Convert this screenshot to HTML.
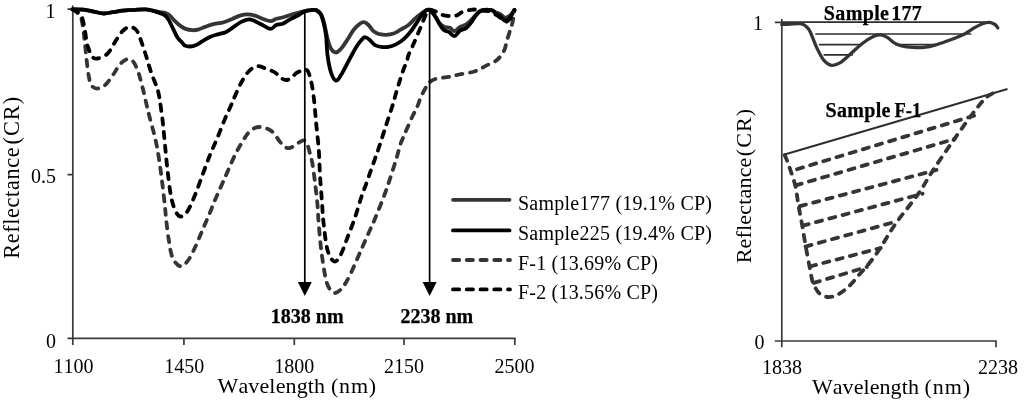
<!DOCTYPE html>
<html><head><meta charset="utf-8"><title>Reflectance</title>
<style>
html,body{margin:0;padding:0;background:#fff;}
svg{display:block;}
text{font-kerning:none;font-family:"Liberation Serif",serif;fill:#000;}
.b{font-weight:bold;stroke:#000;stroke-width:0.25px;}
</style></head><body>
<svg width="1024" height="402" viewBox="0 0 1024 402">
<rect width="1024" height="402" fill="#fff"/>

<!-- left chart axes -->
<g stroke="#3a3a3a" stroke-width="1.7" fill="none">
<path d="M72.8,5.5 V338.4 M67.5,338.4 H515.5 M67.5,9.2 H73 M67.5,174.6 H73"/>
<path d="M72.8,338 V345 M183.9,338 V345 M294.3,338 V345 M404,338 V345 M514.8,338 V345"/>
</g>
<path d="M72.5,9.4 C74.6,9.5 81.2,9.3 85.0,9.8 C88.8,10.2 91.9,11.3 95.0,11.9 C98.1,12.5 100.8,13.4 103.8,13.5 C106.7,13.6 109.4,12.7 112.5,12.2 C115.6,11.8 118.8,11.0 122.5,10.6 C126.2,10.2 131.2,9.9 135.0,9.8 C138.8,9.6 142.1,9.3 145.0,9.4 C147.9,9.5 150.0,10.1 152.5,10.6 C155.0,11.1 157.9,11.8 160.0,12.2 C162.1,12.6 163.3,12.3 165.0,12.9 C166.7,13.5 168.3,14.2 170.0,15.6 C171.7,17.0 173.3,19.6 175.0,21.2 C176.7,22.9 178.3,24.4 180.0,25.6 C181.7,26.8 182.9,27.8 185.0,28.6 C187.1,29.4 190.2,30.1 192.5,30.2 C194.8,30.4 196.7,30.0 198.8,29.4 C200.8,28.8 202.7,27.7 205.0,26.9 C207.3,26.1 209.4,25.2 212.5,24.4 C215.6,23.6 220.4,23.2 223.8,22.2 C227.1,21.3 229.8,19.9 232.5,18.8 C235.2,17.6 237.5,16.3 240.0,15.6 C242.5,14.9 245.0,14.4 247.5,14.4 C250.0,14.4 252.5,14.9 255.0,15.6 C257.5,16.3 259.9,17.8 262.5,18.8 C265.1,19.7 268.3,21.2 270.6,21.2 C272.9,21.2 274.3,19.4 276.2,18.8 C278.2,18.1 280.2,18.1 282.5,17.5 C284.8,16.9 287.3,15.8 290.0,15.0 C292.7,14.2 296.3,13.2 298.8,12.5 C301.2,11.8 302.5,11.4 304.5,11.0 C306.5,10.6 309.1,10.2 311.0,10.1 C312.9,9.9 314.4,9.5 316.0,10.1 C317.6,10.7 319.5,11.7 320.8,13.8 C322.1,15.8 322.9,18.5 324.0,22.5 C325.1,26.5 326.1,33.1 327.2,37.5 C328.4,41.9 329.5,46.2 331.0,48.8 C332.5,51.2 334.3,52.5 336.0,52.5 C337.7,52.5 339.1,50.8 341.0,48.8 C342.9,46.7 345.2,43.1 347.2,40.0 C349.3,36.9 351.4,32.7 353.5,30.0 C355.6,27.3 358.0,25.0 359.8,23.8 C361.5,22.5 362.6,22.0 364.1,22.2 C365.6,22.5 366.9,23.5 368.5,25.0 C370.1,26.5 371.8,29.8 373.5,31.2 C375.2,32.7 376.4,33.2 378.5,33.8 C380.6,34.3 383.5,34.8 386.0,34.8 C388.5,34.7 391.0,34.4 393.5,33.5 C396.0,32.6 398.5,30.8 401.0,29.4 C403.5,28.0 406.2,26.8 408.5,25.0 C410.8,23.2 412.7,20.6 414.8,18.8 C416.8,16.9 419.3,15.1 421.0,13.8 C422.7,12.4 423.7,11.5 425.0,10.8 C426.3,10.1 427.4,9.4 428.8,9.8 C430.1,10.1 431.1,10.7 433.0,13.0 C434.9,15.3 438.0,21.4 440.0,23.8 C442.0,26.1 443.3,26.2 445.0,26.9 C446.7,27.6 448.4,27.0 450.0,27.8 C451.6,28.5 452.7,31.4 454.4,31.2 C456.1,31.1 458.0,28.0 460.0,26.9 C462.0,25.8 464.4,25.5 466.2,24.4 C468.1,23.2 469.6,21.6 471.2,20.0 C472.9,18.4 474.6,16.1 476.2,14.5 C477.9,12.9 478.8,11.3 481.2,10.6 C483.8,9.9 488.8,9.9 491.2,10.2 C493.8,10.6 494.8,11.9 496.2,12.5 C497.7,13.1 498.5,13.2 500.0,14.0 C501.5,14.8 503.3,17.2 505.0,17.5 C506.7,17.8 508.4,16.8 510.0,15.5 C511.6,14.2 513.7,10.9 514.4,10.0" fill="none" stroke="#353535" stroke-width="3.8" stroke-linejoin="round" stroke-linecap="round"/>
<path d="M72.5,9.4 C74.6,9.5 81.2,9.3 85.0,9.8 C88.8,10.2 91.9,11.3 95.0,11.9 C98.1,12.5 100.8,13.4 103.8,13.5 C106.7,13.6 109.4,12.7 112.5,12.2 C115.6,11.8 118.8,11.0 122.5,10.6 C126.2,10.2 131.2,9.9 135.0,9.8 C138.8,9.6 142.1,9.3 145.0,9.4 C147.9,9.5 150.0,10.0 152.5,10.6 C155.0,11.2 157.9,12.3 160.0,13.1 C162.1,13.9 163.5,14.4 165.0,15.6 C166.5,16.8 167.5,18.0 168.8,20.0 C170.0,22.0 171.0,24.6 172.5,27.5 C174.0,30.4 175.8,34.9 177.5,37.5 C179.2,40.1 181.2,41.6 182.5,43.0 C183.8,44.4 183.8,45.0 185.0,45.6 C186.2,46.2 188.1,46.6 190.0,46.5 C191.9,46.4 194.2,45.9 196.2,45.0 C198.3,44.1 200.2,42.6 202.5,41.2 C204.8,39.9 207.5,38.0 210.0,36.9 C212.5,35.8 214.8,35.2 217.5,34.4 C220.2,33.6 223.5,33.1 226.2,31.9 C229.0,30.6 231.2,28.6 233.8,26.9 C236.2,25.2 238.8,23.1 241.2,21.9 C243.8,20.6 246.5,19.5 248.8,19.4 C251.0,19.3 252.7,20.3 255.0,21.2 C257.3,22.2 259.9,23.8 262.5,25.0 C265.1,26.2 268.3,28.8 270.6,28.8 C272.9,28.8 274.3,25.8 276.2,25.0 C278.2,24.2 280.2,24.7 282.5,23.8 C284.8,22.8 287.3,20.9 290.0,19.4 C292.7,17.9 296.3,16.3 298.8,15.0 C301.2,13.7 302.5,12.3 304.5,11.5 C306.5,10.7 309.1,10.3 311.0,10.1 C312.9,9.9 314.4,9.5 316.0,10.1 C317.6,10.7 319.1,11.7 320.4,13.8 C321.6,15.8 322.6,19.0 323.5,22.5 C324.4,26.0 325.3,29.6 326.0,35.0 C326.7,40.4 326.7,48.8 327.5,55.0 C328.3,61.2 329.6,68.2 331.0,72.5 C332.4,76.8 334.3,80.2 336.0,80.6 C337.7,81.0 338.9,78.2 341.0,75.0 C343.1,71.8 346.0,65.8 348.5,61.2 C351.0,56.7 353.9,50.9 356.0,47.5 C358.1,44.1 359.5,42.3 361.0,40.6 C362.5,38.9 363.3,37.4 364.8,37.2 C366.2,37.1 368.1,38.7 369.8,40.0 C371.4,41.3 372.9,43.9 374.8,45.0 C376.6,46.1 378.7,46.6 381.0,46.9 C383.3,47.2 386.0,47.3 388.5,46.9 C391.0,46.5 393.5,45.6 396.0,44.4 C398.5,43.1 401.0,41.6 403.5,39.4 C406.0,37.2 408.5,34.5 411.0,31.2 C413.5,28.0 416.4,23.1 418.5,20.0 C420.6,16.9 422.0,14.2 423.8,12.5 C425.5,10.8 426.9,9.1 428.8,9.8 C430.6,10.4 433.1,13.7 435.0,16.2 C436.9,18.8 438.5,22.7 440.0,25.0 C441.5,27.3 442.3,28.9 443.8,30.0 C445.2,31.1 447.0,30.9 448.8,31.9 C450.5,32.9 452.5,36.5 454.4,36.2 C456.3,36.0 458.0,32.0 460.0,30.6 C462.0,29.2 464.4,29.5 466.2,28.1 C468.1,26.8 469.6,24.7 471.2,22.5 C472.9,20.3 474.6,17.0 476.2,15.0 C477.9,13.0 478.8,11.4 481.2,10.6 C483.8,9.8 488.8,9.7 491.2,10.2 C493.8,10.8 494.8,12.8 496.2,13.8 C497.7,14.8 498.5,15.1 500.0,16.2 C501.5,17.4 503.3,20.4 505.0,20.6 C506.7,20.8 508.4,19.3 510.0,17.5 C511.6,15.7 513.7,11.2 514.4,10.0" fill="none" stroke="#000" stroke-width="3.8" stroke-linejoin="round" stroke-linecap="round"/>
<path d="M72.5,9.4 C73.2,9.9 75.6,11.2 77.0,12.5 C78.4,13.8 79.9,14.4 81.0,17.5 C82.1,20.6 82.9,27.2 83.5,31.0 C84.1,34.8 84.1,36.8 84.4,40.0 C84.8,43.2 85.2,46.2 85.6,50.0 C86.0,53.8 86.4,58.1 86.9,62.5 C87.4,66.9 88.0,72.5 88.8,76.2 C89.5,80.0 90.0,83.0 91.2,85.0 C92.5,87.0 94.4,88.2 96.2,88.5 C98.1,88.8 100.6,87.9 102.5,86.9 C104.4,85.9 105.6,84.7 107.5,82.5 C109.4,80.3 111.7,76.8 113.8,73.8 C115.8,70.7 117.9,66.8 120.0,64.4 C122.1,62.0 124.4,60.1 126.2,59.4 C128.1,58.7 129.8,59.2 131.2,60.0 C132.7,60.8 133.8,62.1 135.0,64.4 C136.2,66.7 137.7,70.7 138.8,73.8 C139.8,76.8 140.4,79.4 141.2,82.5 C142.1,85.6 142.8,88.5 143.8,92.5 C144.7,96.5 145.9,101.9 146.9,106.2 C147.9,110.6 148.7,113.5 150.0,118.8 C151.3,124.0 153.5,131.0 155.0,137.5 C156.5,144.0 157.5,149.6 158.8,157.5 C160.0,165.4 161.5,176.8 162.5,185.0 C163.5,193.2 164.4,201.2 165.0,207.0 C165.6,212.8 165.6,214.5 166.2,220.0 C166.9,225.5 167.7,233.8 168.8,240.0 C169.8,246.2 170.6,253.1 172.5,257.5 C174.4,261.9 177.5,265.6 180.0,266.2 C182.5,266.9 185.0,264.4 187.5,261.2 C190.0,258.1 192.5,252.7 195.0,247.5 C197.5,242.3 200.0,235.8 202.5,230.0 C205.0,224.2 207.9,217.5 210.0,212.5 C212.1,207.5 212.5,205.8 215.0,200.0 C217.5,194.2 221.7,185.0 225.0,177.5 C228.3,170.0 231.7,161.7 235.0,155.0 C238.3,148.3 242.7,141.2 245.0,137.5 C247.3,133.8 247.3,134.0 248.8,132.5 C250.2,131.0 251.9,129.3 253.8,128.4 C255.6,127.5 257.7,126.9 260.0,127.0 C262.3,127.1 265.2,127.7 267.5,128.8 C269.8,129.8 271.7,130.9 273.8,133.1 C275.8,135.3 278.1,139.6 280.0,141.9 C281.9,144.2 283.5,145.9 285.0,146.9 C286.5,147.9 287.3,148.2 288.8,148.1 C290.2,148.0 291.9,147.3 293.8,146.2 C295.6,145.2 298.2,142.8 300.0,141.9 C301.8,141.0 303.1,140.1 304.4,140.6 C305.6,141.1 306.6,142.8 307.5,145.0 C308.4,147.2 309.2,150.6 310.0,153.8 C310.8,156.9 311.7,159.2 312.5,164.0 C313.3,168.8 314.2,175.7 315.0,182.5 C315.8,189.3 316.9,197.9 317.5,205.0 C318.1,212.1 318.1,217.5 318.8,225.0 C319.4,232.5 320.2,241.7 321.2,250.0 C322.3,258.3 323.8,268.8 325.0,275.0 C326.2,281.2 327.1,284.5 328.8,287.5 C330.4,290.5 332.7,293.0 335.0,293.0 C337.3,293.0 340.0,290.5 342.5,287.5 C345.0,284.5 347.1,280.8 350.0,275.0 C352.9,269.2 356.7,260.0 360.0,252.5 C363.3,245.0 367.3,236.0 370.0,230.0 C372.7,224.0 373.6,222.1 376.0,216.2 C378.4,210.4 382.1,201.2 384.4,195.0 C386.7,188.8 388.3,183.8 390.0,178.8 C391.7,173.8 393.2,168.6 394.4,165.0 C395.5,161.4 395.9,160.4 396.9,156.9 C397.9,153.4 399.5,147.2 400.6,143.8 C401.7,140.3 402.6,139.0 403.8,136.2 C404.9,133.5 406.0,130.8 407.5,127.5 C409.0,124.2 410.9,119.6 412.5,116.2 C414.1,112.9 415.4,110.8 416.9,107.5 C418.4,104.2 419.7,99.7 421.2,96.2 C422.8,92.8 424.8,89.3 426.2,86.9 C427.7,84.5 428.3,83.3 430.0,81.9 C431.7,80.5 433.1,79.6 436.2,78.8 C439.4,77.9 444.8,77.6 448.8,76.9 C452.7,76.2 455.6,75.3 460.0,74.4 C464.4,73.5 470.6,72.7 475.0,71.2 C479.4,69.8 482.7,67.4 486.2,65.6 C489.8,63.8 493.8,62.4 496.2,60.6 C498.8,58.8 499.8,57.0 501.2,55.0 C502.7,53.0 503.8,51.5 504.8,48.8 C505.8,46.0 506.5,42.1 507.5,38.8 C508.5,35.4 509.8,31.5 510.6,28.8 C511.4,26.0 511.9,25.4 512.5,22.5 C513.1,19.6 514.1,13.1 514.4,11.2" fill="none" stroke="#353535" stroke-width="3.8" stroke-dasharray="6.2 7.55" stroke-linecap="round"/>
<path d="M72.5,9.4 C73.3,9.8 75.9,10.7 77.5,12.0 C79.1,13.3 80.8,14.3 82.0,17.5 C83.2,20.7 84.2,26.6 85.0,31.0 C85.8,35.4 86.4,41.1 86.9,43.8 C87.4,46.4 87.6,45.5 88.1,47.0 C88.6,48.5 89.2,50.8 90.0,52.5 C90.8,54.2 91.8,56.5 93.1,57.5 C94.3,58.5 95.5,58.8 97.5,58.5 C99.5,58.2 102.9,56.9 105.0,55.6 C107.1,54.3 108.1,53.2 110.0,50.6 C111.9,48.0 114.2,43.2 116.2,40.0 C118.3,36.8 120.3,33.4 122.5,31.2 C124.7,29.1 127.1,27.1 129.4,26.9 C131.7,26.7 134.5,28.1 136.2,30.0 C138.0,31.9 138.5,34.2 140.0,38.0 C141.5,41.8 143.5,48.0 145.0,52.5 C146.5,57.0 147.5,61.0 148.8,65.0 C150.0,69.0 151.1,72.5 152.5,76.2 C153.9,80.0 155.8,84.0 156.9,87.5 C158.1,91.0 158.7,93.8 159.4,97.5 C160.1,101.2 160.6,105.4 161.2,110.0 C161.9,114.6 162.5,119.2 163.1,125.0 C163.7,130.8 164.3,137.5 165.0,145.0 C165.7,152.5 166.5,161.2 167.5,170.0 C168.5,178.8 169.8,190.4 171.2,197.5 C172.7,204.6 174.6,209.3 176.2,212.5 C177.9,215.7 179.4,216.7 181.2,216.5 C183.1,216.3 185.2,214.8 187.5,211.2 C189.8,207.7 192.5,201.0 195.0,195.0 C197.5,189.0 200.0,181.7 202.5,175.0 C205.0,168.3 207.5,161.2 210.0,155.0 C212.5,148.8 215.0,143.5 217.5,137.5 C220.0,131.5 222.7,124.2 225.0,118.8 C227.3,113.3 229.8,108.3 231.2,105.0 C232.7,101.7 232.3,102.1 233.8,98.8 C235.2,95.4 237.9,89.1 240.0,85.0 C242.1,80.9 244.2,77.2 246.2,74.4 C248.3,71.6 250.4,69.5 252.5,68.1 C254.6,66.7 256.5,66.1 258.8,66.2 C261.0,66.4 263.5,67.7 266.2,68.8 C269.0,69.8 272.5,70.9 275.0,72.5 C277.5,74.1 279.4,76.8 281.2,78.1 C283.1,79.3 284.6,80.0 286.2,80.0 C287.9,80.0 289.6,79.2 291.2,78.1 C292.9,76.9 294.4,74.3 296.2,73.1 C298.1,71.8 300.7,71.1 302.5,70.6 C304.3,70.1 305.8,69.3 306.9,70.0 C308.0,70.7 308.6,72.5 309.4,75.0 C310.2,77.5 311.2,81.2 311.9,85.0 C312.6,88.8 313.2,93.3 313.8,97.5 C314.3,101.7 314.6,105.6 315.0,110.0 C315.4,114.4 315.6,117.1 316.2,123.8 C316.9,130.4 318.1,141.5 318.8,150.0 C319.4,158.5 319.5,166.2 320.0,175.0 C320.5,183.8 321.4,194.2 322.0,202.5 C322.6,210.8 322.8,217.1 323.8,225.0 C324.7,232.9 325.8,244.0 327.5,250.0 C329.2,256.0 331.7,260.2 333.8,261.2 C335.8,262.3 337.7,260.2 340.0,256.2 C342.3,252.3 345.0,244.0 347.5,237.5 C350.0,231.0 352.7,224.2 355.0,217.5 C357.3,210.8 359.4,203.1 361.2,197.5 C363.1,191.9 364.7,188.1 366.2,183.8 C367.8,179.4 369.1,175.4 370.6,171.2 C372.1,167.1 373.8,162.3 375.0,158.8 C376.2,155.2 376.4,155.0 378.1,150.0 C379.8,145.0 382.7,135.6 385.0,128.5 C387.3,121.4 390.0,113.5 391.9,107.5 C393.8,101.5 394.9,97.1 396.2,92.5 C397.6,87.9 398.8,84.0 400.0,80.0 C401.2,76.0 402.6,71.9 403.8,68.8 C404.9,65.6 406.1,63.5 406.9,61.2 C407.7,59.0 407.4,57.9 408.5,55.0 C409.6,52.1 411.6,48.4 413.5,44.0 C415.4,39.6 417.9,33.8 420.0,28.8 C422.1,23.7 424.8,16.9 426.2,13.8 C427.7,10.6 427.3,10.2 428.8,9.8 C430.2,9.3 432.7,10.4 435.0,11.2 C437.3,12.1 440.2,14.2 442.5,15.0 C444.8,15.8 446.5,15.9 448.8,16.0 C451.0,16.1 454.0,16.3 456.2,15.6 C458.5,14.9 460.2,12.8 462.5,11.9 C464.8,11.0 467.9,10.4 470.0,10.0 C472.1,9.6 473.1,9.4 475.0,9.5 C476.9,9.6 478.8,10.3 481.2,10.6 C483.8,10.9 487.5,10.6 490.0,11.3 C492.5,12.0 494.6,13.9 496.2,15.0 C497.9,16.1 498.5,16.5 500.0,17.6 C501.5,18.7 503.3,21.6 505.0,21.8 C506.7,22.0 508.4,20.6 510.0,18.6 C511.6,16.6 513.7,11.4 514.4,10.0" fill="none" stroke="#000" stroke-width="3.8" stroke-dasharray="6.2 7.55" stroke-linecap="round"/>
<!-- arrows -->
<g stroke="#000" stroke-width="1.7">
<path d="M304.8,12 V284"/><path d="M429.6,12 V284"/>
</g>
<path d="M297.8,282 L311.8,282 L304.8,296 Z" fill="#000"/>
<path d="M422.6,282 L436.6,282 L429.6,296 Z" fill="#000"/>
<text class="b" x="270.8" y="323.2" font-size="20">1838 nm</text>
<text class="b" x="400.4" y="323.2" font-size="20">2238 nm</text>
<!-- tick labels -->
<text x="55.5" y="17.5" font-size="20" text-anchor="end">1</text>
<text x="56" y="183" font-size="20" text-anchor="end">0.5</text>
<text x="56" y="347.7" font-size="20" text-anchor="end">0</text>
<text x="73.5" y="372.5" font-size="20" text-anchor="middle">1100</text>
<text x="184.3" y="372.5" font-size="20" text-anchor="middle">1450</text>
<text x="294.3" y="372.5" font-size="20" text-anchor="middle">1800</text>
<text x="404" y="372.5" font-size="20" text-anchor="middle">2150</text>
<text x="514.5" y="372.5" font-size="20" text-anchor="middle">2500</text>
<text y="393.2" font-size="22"><tspan x="217.5" textLength="107.6" lengthAdjust="spacing">Wavelength</tspan> <tspan x="330.9" textLength="45.3" lengthAdjust="spacing">(nm)</tspan></text>
<text transform="translate(18.8,258.8) rotate(-90)" font-size="22.3"><tspan x="0" textLength="111.4" lengthAdjust="spacing">Reflectance</tspan> <tspan x="114.3" textLength="47.7" lengthAdjust="spacing">(CR)</tspan></text>
<!-- legend -->
<g fill="none" stroke-width="3.8">
<path d="M453,199.8 H509.5" stroke="#353535" stroke-linecap="round"/>
<path d="M453,230.4 H509.5" stroke="#000" stroke-linecap="round"/>
<path d="M453,260 H510" stroke="#353535" stroke-dasharray="6.2 7.55" stroke-linecap="round"/>
<path d="M453,289.4 H510" stroke="#000" stroke-dasharray="6.2 7.55" stroke-linecap="round"/>
</g>
<text x="518" y="209.7" font-size="20" textLength="194" lengthAdjust="spacing">Sample177 (19.1% CP)</text>
<text x="518" y="239.7" font-size="20" textLength="194" lengthAdjust="spacing">Sample225 (19.4% CP)</text>
<text x="518" y="269.6" font-size="20" textLength="140" lengthAdjust="spacing">F-1 (13.69% CP)</text>
<text x="518" y="299" font-size="20" textLength="140" lengthAdjust="spacing">F-2 (13.56% CP)</text>
<!-- right chart -->
<g stroke="#3a3a3a" stroke-width="1.7" fill="none">
<path d="M781.8,19 V341 M774.8,341 H996.8 M774.8,22.3 H782 M996,341 V347.2 M781.8,341 V347.2"/>
</g>
<g stroke="#2e2e2e" stroke-width="1.7" fill="none">
<path d="M781.8,22.2 H992"/>
<path d="M815.3,34 H971.3 M818.9,44.6 H862.6 M895,44.6 H936 M823.6,54.9 H852.9"/>
<path d="M784.6,154.5 L1007.5,89" stroke-width="1.9"/>
</g>
<path d="M781.8,24.5 C783.2,24.4 787.0,24.1 790.0,24.0 C793.0,23.9 797.5,23.4 800.0,23.7 C802.5,23.9 803.4,24.3 805.0,25.5 C806.6,26.7 807.8,27.1 809.7,30.7 C811.6,34.4 814.3,42.5 816.6,47.4 C818.9,52.3 821.2,57.0 823.6,60.0 C826.0,63.0 828.5,64.8 831.3,65.3 C834.1,65.8 836.9,64.8 840.3,62.7 C843.7,60.7 847.8,56.2 851.5,53.0 C855.2,49.8 858.9,46.0 862.6,43.2 C866.3,40.4 870.8,37.6 873.8,36.2 C876.8,34.8 878.4,34.6 880.7,34.8 C883.0,35.0 885.4,36.2 887.7,37.6 C890.0,39.0 892.4,41.8 894.7,43.2 C897.0,44.6 898.6,45.3 901.6,46.0 C904.6,46.7 909.1,47.2 912.8,47.4 C916.5,47.6 920.3,47.8 924.0,47.4 C927.7,47.0 930.8,46.4 935.0,45.2 C939.2,44.0 944.3,42.1 949.0,40.4 C953.7,38.7 958.8,36.9 963.0,34.8 C967.2,32.7 970.9,29.8 974.1,27.9 C977.4,26.0 980.0,24.6 982.5,23.7 C985.0,22.8 987.3,22.2 989.4,22.3 C991.5,22.4 993.6,23.6 995.0,24.5 C996.4,25.4 997.3,27.3 997.8,27.9" fill="none" stroke="#353535" stroke-width="3.3" stroke-linecap="round"/>
<path d="M784.7,155.0 C785.3,156.6 786.8,159.5 788.5,164.6 C790.2,169.7 793.6,178.7 795.2,185.4 C796.9,192.1 797.2,198.3 798.4,204.9 C799.5,211.5 800.9,217.8 802.1,224.8 C803.4,231.9 804.6,240.2 805.9,247.2 C807.1,254.2 808.6,261.6 809.6,267.0 C810.6,272.4 811.3,276.5 812.0,279.5 C812.7,282.5 812.7,282.7 813.9,285.0 C815.1,287.3 817.1,291.4 819.4,293.4 C821.7,295.4 824.8,296.8 827.8,297.0 C830.8,297.2 834.0,296.6 837.5,294.8 C841.0,293.1 845.0,290.0 848.7,286.5 C852.4,283.0 856.3,277.9 859.8,274.0 C863.3,270.1 866.3,266.9 869.6,262.8 C872.9,258.7 875.0,256.0 879.4,249.4 C883.8,242.8 889.6,232.3 896.1,223.0 C902.6,213.7 912.4,202.3 918.4,193.7 C924.4,185.1 926.7,179.9 932.3,171.4 C937.9,162.9 945.3,152.0 951.8,142.7 C958.3,133.4 965.6,123.0 971.3,115.5 C977.0,108.0 981.4,101.9 985.9,97.8 C990.4,93.7 996.3,92.0 998.4,90.8" fill="none" stroke="#353535" stroke-width="3.8" stroke-dasharray="6.2 7.55" stroke-linecap="round"/>
<path d="M797.0,169.2 L979.7,114.0 M795.7,185.4 L954.6,139.0 M799.9,206.2 L936.5,170.0 M802.7,225.7 L922.6,193.7 M805.5,246.6 L896.1,221.6 M810.0,266.5 L880.7,248.0 M813.9,282.9 L866.8,267.0 " fill="none" stroke="#353535" stroke-width="3.8" stroke-dasharray="6.2 7.55" stroke-linecap="round"/>
<text class="b" y="19.7" font-size="20"><tspan x="823.8" textLength="65.2" lengthAdjust="spacing">Sample</tspan> <tspan x="891.3" textLength="30.5" lengthAdjust="spacing">177</tspan></text>
<text class="b" y="117.3" font-size="20"><tspan x="825.5" textLength="65" lengthAdjust="spacing">Sample</tspan> <tspan x="894.4" textLength="26.8" lengthAdjust="spacingAndGlyphs">F-1</tspan></text>
<text x="763" y="29.5" font-size="20" text-anchor="end">1</text>
<text x="764.4" y="349.3" font-size="20" text-anchor="end">0</text>
<text x="782" y="373.8" font-size="20" text-anchor="middle">1838</text>
<text x="998" y="373.8" font-size="20" text-anchor="middle">2238</text>
<text y="393.6" font-size="22"><tspan x="811.9" textLength="107" lengthAdjust="spacing">Wavelength</tspan> <tspan x="924.5" textLength="45.5" lengthAdjust="spacing">(nm)</tspan></text>
<text transform="translate(750.7,263.3) rotate(-90)" font-size="22"><tspan x="0" textLength="105.7" lengthAdjust="spacing">Reflectance</tspan> <tspan x="107.1" textLength="47.4" lengthAdjust="spacing">(CR)</tspan></text>

</svg>
</body></html>
